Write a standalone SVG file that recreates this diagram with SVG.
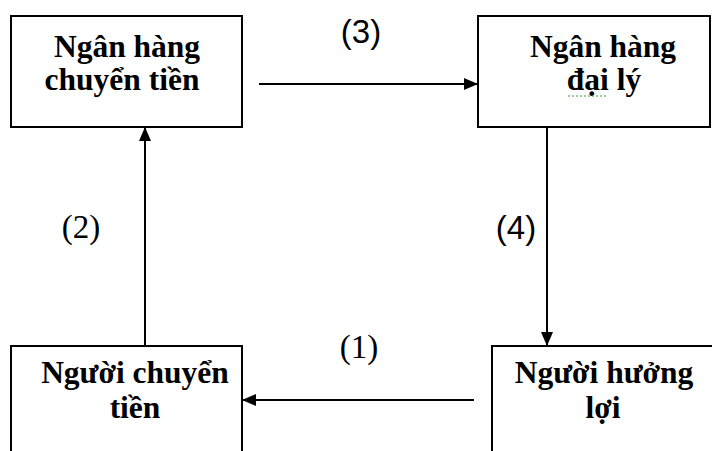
<svg xmlns="http://www.w3.org/2000/svg" width="712" height="451" viewBox="0 0 712 451">
  <style>
    .box { fill: #ffffff; stroke: #000000; stroke-width: 2; }
    .lbl { font-family: 'Liberation Serif', 'Times New Roman', 'DejaVu Serif', serif; font-weight: bold; font-size: 31.5px; fill: #000000; text-anchor: middle; }
    .num-sans { font-family: 'Liberation Sans', Arial, sans-serif; font-size: 33px; fill: #000000; text-anchor: middle; }
    .num-serif { font-family: 'Liberation Serif', 'Times New Roman', 'DejaVu Serif', serif; font-size: 33px; fill: #000000; text-anchor: middle; }
    .conn { stroke: #000000; stroke-width: 2; fill: none; marker-end: url(#head); }
  </style>
  <defs>
    <marker id="head" markerWidth="14" markerHeight="12" refX="14" refY="6" orient="auto" markerUnits="userSpaceOnUse">
      <path d="M0,0 L14,6 L0,12 Z" fill="#000000"/>
    </marker>
  </defs>
  <rect width="712" height="451" fill="#ffffff"/>

  <g id="ngan-hang-chuyen-tien">
    <rect class="box" x="11" y="16" width="231" height="111"/>
    <text class="lbl" x="127" y="57">Ngân hàng</text>
    <text class="lbl" x="122" y="90">chuyển tiền</text>
  </g>

  <g id="ngan-hang-dai-ly">
    <rect class="box" x="478" y="16" width="232" height="111"/>
    <text class="lbl" x="603" y="57">Ngân hàng</text>
    <text class="lbl" x="604" y="90">đại lý</text>
    <path d="M568,96 L607,96" stroke="#3a9b3a" stroke-width="1.2" stroke-dasharray="2,2"/>
  </g>

  <g id="nguoi-chuyen-tien">
    <rect class="box" x="11" y="346" width="231" height="120"/>
    <text class="lbl" x="135" y="383">Người chuyển</text>
    <text class="lbl" x="135" y="418">tiền</text>
  </g>

  <g id="nguoi-huong-loi">
    <rect class="box" x="492" y="346" width="240" height="120"/>
    <text class="lbl" x="604" y="383">Người hưởng</text>
    <text class="lbl" x="603" y="418">lợi</text>
  </g>

  <g id="connectors">
    <line class="conn" x1="259" y1="84" x2="478" y2="84"/>
    <line class="conn" x1="145" y1="346" x2="145" y2="127"/>
    <line class="conn" x1="547" y1="127" x2="547" y2="346"/>
    <line class="conn" x1="474" y1="400" x2="242" y2="400"/>
    <text class="num-sans" x="361" y="43">(3)</text>
    <text class="num-serif" x="81" y="238">(2)</text>
    <text class="num-sans" x="516" y="239">(4)</text>
    <text class="num-serif" x="359" y="358">(1)</text>
  </g>
</svg>
